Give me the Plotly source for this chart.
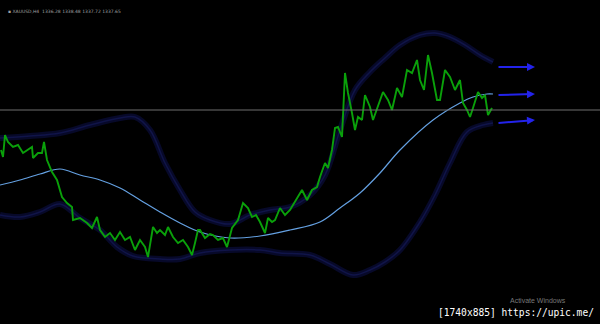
import plotly.graph_objects as go

# ---- data (bar index, price) ----
price_bar = [1, 3, 5, 8, 13, 18, 23, 28, 32, 33, 38, 42, 44, 47, 52, 57, 62, 67, 72, 73, 80, 87, 92, 97,
             100, 105, 110, 115, 120, 125, 130, 135, 140, 145, 148, 153, 157, 160, 165, 168, 173, 178,
             183, 188, 192, 195, 198, 200, 205, 210, 213, 218, 223, 227, 232, 238, 243, 248, 252, 256,
             260, 265, 268, 272, 275, 280, 285, 290, 297, 302, 307, 312, 317, 320, 325, 328, 332, 335,
             338, 342, 345, 348, 352, 355, 358, 362, 365, 370, 373, 378, 383, 388, 392, 397, 402, 407,
             412, 417, 420, 424, 428, 432, 437, 440, 445, 450, 455, 460, 463, 467, 470, 473, 478, 482,
             485, 488, 492]
price_val = [1325, 1321.5, 1332.5, 1329, 1326.5, 1327.5, 1323.5, 1325, 1326.5, 1321, 1323.5, 1323.5, 1329,
             1320, 1314, 1310, 1301.5, 1298.5, 1296.5, 1290, 1291, 1288.5, 1286, 1291.5,
             1285, 1281.5, 1283.5, 1280, 1284, 1280, 1281.5, 1275, 1280, 1276.5, 1271.5, 1286.5, 1283.5,
             1285, 1282.5, 1286.5, 1281.5, 1278.5,
             1280, 1276.5, 1272.5, 1278.5, 1285, 1285, 1281, 1283, 1282.5, 1280, 1281, 1276.5, 1286, 1290,
             1298.5, 1296, 1291.5, 1292.5,
             1289, 1283.5, 1291, 1289, 1290, 1296, 1292.5, 1295, 1301, 1305, 1300, 1305, 1306.5, 1311.5,
             1318.5, 1316, 1325, 1336,
             1336.5, 1331.5, 1363.5, 1353.5, 1343.5, 1335, 1341.5, 1340, 1352.5, 1346.5, 1340, 1346.5,
             1354, 1350, 1345, 1356, 1351.5, 1365,
             1363.5, 1370, 1360, 1355, 1372.5, 1363.5, 1350, 1350, 1365, 1361.5, 1355, 1360, 1348.5, 1345,
             1341.5, 1346, 1354, 1351,
             1352.5, 1342.5, 1346]

ma_bar = [0, 20, 40, 60, 80, 100, 120, 140, 160, 180, 200, 230, 260, 290, 320, 340, 360, 380, 400,
          433, 460, 473, 487, 493]
ma_val = [1307.5, 1310, 1313, 1315.5, 1312.5, 1310, 1306, 1300, 1294, 1288.5, 1284, 1281, 1282, 1285,
          1289, 1296, 1303.5, 1313.5, 1325, 1340, 1348.5, 1351.5, 1353, 1353]

upper_bar = [0, 30, 60, 90, 120, 135, 150, 165, 180, 195, 210, 230, 250, 270, 290, 310, 325, 340, 355,
             370, 385, 400, 420, 435, 450, 465, 480, 493]
upper_val = [1331, 1332, 1333.5, 1337.5, 1341, 1341.5, 1335, 1318.5, 1305, 1294, 1290, 1288, 1292.5,
             1295, 1296.5, 1302.5, 1312.5, 1335, 1355, 1364, 1371, 1377.5, 1382.5, 1383.5, 1381.5,
             1377.5, 1372.5, 1369]

lower_bar = [0, 20, 40, 60, 80, 100, 117, 133, 160, 180, 200, 230, 260, 280, 310, 330, 353, 370, 385,
             400, 420, 435, 450, 467, 483, 493]
lower_val = [1292.5, 1291.5, 1294, 1298, 1291, 1285, 1276.5, 1272, 1270.5, 1270.5, 1273.5, 1275, 1275,
             1273.5, 1272.5, 1268, 1262.5, 1265, 1269, 1275, 1289, 1302.5, 1318.5, 1334, 1337.5, 1338.5]

level_price = 1345
arrow_start = [1366.5, 1352.5, 1338.5]
arrow_end = [1366.5, 1353, 1340]
arrow_x0, arrow_x1 = 497, 535

header_text = "XAUUSD,H4  1336.28 1338.48 1337.72 1337.65"

fig = go.Figure()

band_glow = "rgba(10,12,55,0.75)"
band_core = "rgb(16,20,72)"
for bx, bv in [(upper_bar, upper_val), (lower_bar, lower_val)]:
    fig.add_trace(go.Scatter(x=bx, y=bv, mode="lines", line=dict(color=band_glow, width=6, shape="spline"),
                             hoverinfo="skip", showlegend=False))
    fig.add_trace(go.Scatter(x=bx, y=bv, mode="lines", line=dict(color=band_core, width=1.5, shape="spline"),
                             hoverinfo="skip", showlegend=False))

fig.add_hline(y=level_price, line=dict(color="rgb(110,110,110)", width=1))

fig.add_trace(go.Scatter(x=ma_bar, y=ma_val, mode="lines",
                         line=dict(color="rgb(100,160,225)", width=1.2, shape="spline"), showlegend=False))

fig.add_trace(go.Scatter(x=price_bar, y=price_val, mode="lines",
                         line=dict(color="rgb(10,160,10)", width=1.9), showlegend=False))

for s, e in zip(arrow_start, arrow_end):
    fig.add_annotation(x=arrow_x1, y=e, ax=arrow_x0, ay=s, xref="x", yref="y", axref="x", ayref="y",
                       showarrow=True, arrowhead=2, arrowsize=0.8, arrowwidth=2,
                       arrowcolor="rgb(35,35,235)", text="")

fig.add_annotation(x=0.01, y=0.965, xref="paper", yref="paper", text="▪ " + header_text, showarrow=False,
                   xanchor="left", yanchor="middle", font=dict(size=4.5, color="rgb(160,160,160)", family="DejaVu Sans"))
fig.add_annotation(x=0.897, y=0.071, xref="paper", yref="paper", text="Activate Windows", showarrow=False,
                   xanchor="center", yanchor="middle", font=dict(size=7, color="rgb(120,120,120)", family="Liberation Sans"))
fig.add_annotation(x=0.993, y=0.035, xref="paper", yref="paper", text="[1740x885] https://upic.me/",
                   showarrow=False, xanchor="right", yanchor="middle",
                   font=dict(size=9.6, color="white", family="DejaVu Sans Mono"))

fig.update_layout(width=600, height=324, margin=dict(l=0, r=0, t=0, b=0),
                  paper_bgcolor="black", plot_bgcolor="black",
                  xaxis=dict(range=[0, 600], visible=False),
                  yaxis=dict(range=[1238, 1400], visible=False))

fig.write_html("out.html")
